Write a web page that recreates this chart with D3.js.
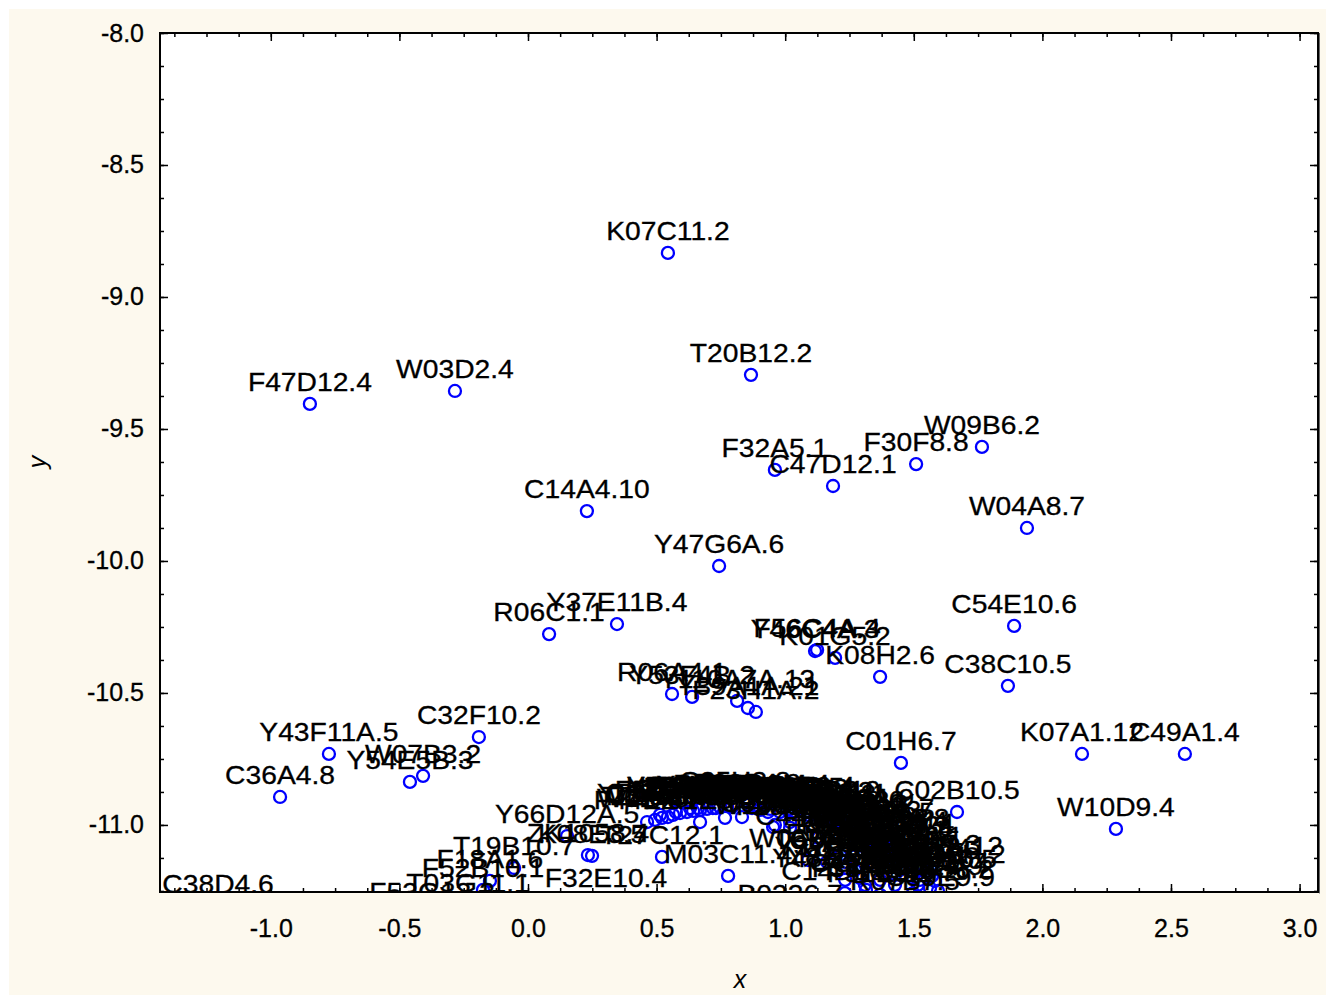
<!DOCTYPE html>
<html>
<head>
<meta charset="utf-8">
<script src="https://cdn.jsdelivr.net/npm/d3@7"></script>
<style>
  html, body { margin: 0; padding: 0; background: #ffffff; }
  svg { display: block; }
  text { font-family: "Liberation Sans", Arial, sans-serif; }
</style>
</head>
<body>
<svg id="chart" width="1328" height="999"></svg>
<script>
// ---------- data ----------
const names = [
  "K07C11.2","T20B12.2","F47D12.4","W03D2.4","W09B6.2","F30F8.8","F32A5.1","C47D12.1",
  "C14A4.10","W04A8.7","Y47G6A.6","R06C1.1","Y37E11B.4","C54E10.6","Y46C4A.3","F56C4A.4",
  "K01G5.2","K08H2.6","C38C10.5","R06A4.1","Y53F4B.2","Y110A7A.13","Y39A1A.21","F23H1A.2",
  "C32F10.2","Y43F11A.5","Y54E5B.3","W07B3.2","C36A4.8","C01H6.7","K07A1.12","C49A1.4",
  "C02B10.5","W10D9.4","C38D4.6","T03G11.1","F53G12.3","Y66D12A.5","K08E3.5","ZK1058.4",
  "T27C12.1","T19B10.7","F18A1.6","F52B10.1","M03C11.4","F32E10.4","B0336.7","R07B7.5",
  "C14D10.2","C53D5.4","F44G4.4","T12D8.8","Y54G2A.12","F35H10.5","C26C6.2","C39E9.9",
  "F44E2.7","W01A8.4","T21B10.1","C34E10.6","Y71H2AM.5","F25H2.9","K11H3.3","ZK637.8",
  "C16A3.5","T05H10.6","F13G3.10","Y39B6A.3","R05F9.6","C25H3.8","F58B3.5","T09B4.9",
  "Y55F3AM.4","W02D3.5","K07H8.10","C06A5.8","F45H10.3","T23G11.3","Y57G11C.12","M02B7.1",
  "F43G9.1","C33A12.1","ZC395.8","F20D6.11","T26A5.3","Y47D3A.6","K04G7.4","F59B8.2",
  "C09H10.3","B0334.8","W09C5.8","F54H12.1","Y53C12A.4","T10B10.7","K02F3.2","C29E4.8",
  "F35G12.2","R53.4","E04A4.5","Y37D8A.14","F01G4.6","T20H4.5","ZK829.4","C15F1.6",
  "K10C3.5","F26E4.9","W10C8.5","Y82E9BR.3","T02G5.8","C05C10.3","F22B7.5","H28O16.1",
  "ZK973.10","C18E9.4","F53F4.10","T06D8.6","Y63D3A.7","K04D7.1","C44B7.10","F29C4.2",
  "W06D4.4","D1037.4","R07E4.4","Y45F10D.4","T07C4.5","F38H4.9",
  "C17E4.9","F57B10.3","Y73B6BL.6","T08G11.1","K12H4.8","W03C9.7","F10G8.3","C27F2.5",
  "ZK858.2","R10E11.1","Y18D10A.9","F08F8.2","T14G10.5","C56C10.8","K06H7.4","F39B2.1",
  "W05H7.3","Y106G6H.2","M01E5.5","C42C1.9","F26D10.3","T24H7.1","B0361.5","K09A9.6",
  "F02A9.4","ZK512.5","C41C4.6","Y48G8AL.1","T01B7.4","F31E3.1"
];
const xVals = [
  0.544, 0.867, -0.848, -0.284, 1.765, 1.509, 0.960, 1.186,
  0.229, 1.940, 0.743, 0.082, 0.346, 1.890, 1.116, 1.124,
  1.194, 1.369, 1.866, 0.560, 0.638, 0.813, 0.855, 0.886,
  -0.191, -0.774, -0.459, -0.408, -0.964, 1.450, 2.154, 2.554,
  1.668, 2.286, -1.205, -0.233, -0.373, 0.152, 0.249, 0.233,
  0.521, -0.054, -0.148, -0.175, 0.778, 0.303, 1.019, 1.466,
  1.232, 1.232, 1.419, 1.446, 1.563, 1.582, 1.594, 1.602,
  0.463, 0.494, 0.521, 0.544, 0.564, 0.591, 0.618, 0.642,
  0.669, 0.696, 0.719, 0.747, 0.774, 0.805, 0.832, 0.855,
  0.883, 0.902, 0.933, 0.960, 0.980, 1.007, 1.030, 1.058,
  1.089, 1.116, 1.143, 1.174, 1.198, 1.213, 1.236, 1.264,
  1.283, 1.306, 1.330, 1.353, 1.376, 1.400, 1.318, 1.341,
  1.357, 1.186, 1.213, 1.240, 1.446, 1.470, 1.497, 1.524,
  1.544, 1.563, 0.953, 1.291, 1.388, 1.427, 1.497, 0.630,
  0.902, 1.058, 1.135, 1.252, 1.330, 1.419, 1.128, 1.019,
  1.089, 1.271, 1.369, 1.516, 1.163, 1.314,
  0.513, 0.575, 0.661, 0.731, 0.793, 0.871, 0.941, 1.019,
  1.077, 1.159, 1.221, 1.275, 1.337, 1.392, 1.439, 1.485,
  1.532, 1.571, 0.669, 0.766, 1.019, 1.104, 1.194, 1.271,
  1.349, 1.427, 1.310, 1.233, 1.516, 1.369
];
const yVals = [
  -8.833, -9.295, -9.405, -9.356, -9.568, -9.633, -9.655, -9.716,
  -9.811, -9.875, -10.019, -10.277, -10.239, -10.246, -10.341, -10.337,
  -10.367, -10.439, -10.473, -10.504, -10.515, -10.530, -10.557, -10.572,
  -10.667, -10.731, -10.837, -10.814, -10.894, -10.765, -10.731, -10.731,
  -10.951, -11.015, -11.307, -11.303, -11.337, -11.042, -11.117, -11.114,
  -11.121, -11.163, -11.212, -11.246, -11.193, -11.284, -11.345, -11.295,
  -11.258, -11.140, -11.068, -11.125, -11.163, -11.212, -11.250, -11.280,
  -10.989, -10.981, -10.973, -10.970, -10.962, -10.955, -10.951, -10.947,
  -10.943, -10.939, -10.936, -10.932, -10.928, -10.917, -10.970, -10.924,
  -10.928, -10.943, -10.951, -11.000, -10.951, -10.943, -10.955, -10.947,
  -10.962, -10.973, -10.966, -10.981, -10.989, -11.000, -11.011, -11.038,
  -11.027, -11.049, -11.057, -11.064, -11.076, -11.087, -11.095, -11.121,
  -11.083, -11.083, -11.114, -11.163, -11.170, -11.140, -11.201, -11.208,
  -11.178, -11.239, -11.008, -11.201, -11.140, -11.227, -11.258, -10.936,
  -10.936, -10.936, -10.951, -10.989, -11.019, -11.102, -11.049, -11.011,
  -11.133, -11.170, -11.208, -11.227, -11.140, -11.246,
  -10.962, -10.951, -10.936, -10.936, -10.932, -10.936, -10.939, -10.939,
  -10.951, -10.962, -10.981, -11.004, -11.034, -11.057, -11.095, -11.125,
  -11.155, -11.193, -10.989, -10.973, -10.989, -11.004, -11.027, -11.076,
  -11.152, -11.189, -11.227, -11.208, -11.170, -11.265
];
const xTicks = [-1.0, -0.5, 0.0, 0.5, 1.0, 1.5, 2.0, 2.5, 3.0];
const yTicks = [-8.0, -8.5, -9.0, -9.5, -10.0, -10.5, -11.0];
const xTitle = "x";
const yTitle = "y";

// ---------- layout ----------
const svg = d3.select("#chart");
const plot = { left: 160, right: 1318, top: 33, bottom: 892 };

svg.append("rect").attr("x", 9).attr("y", 9).attr("width", 1317).attr("height", 986)
  .attr("fill", "#fdf9ee");
svg.append("rect").attr("x", plot.left).attr("y", plot.top)
  .attr("width", plot.right - plot.left).attr("height", plot.bottom - plot.top)
  .attr("fill", "#ffffff");

const x = d3.scaleLinear().domain([-1.4308, 3.0716]).range([plot.left, plot.right]);
const y = d3.scaleLinear().domain([-8.0, -11.254]).range([plot.top, plot.bottom]);

function minorTicks(scale) {
  const [a, b] = d3.extent(scale.domain());
  const out = [];
  for (let v = Math.ceil(a / 0.125) * 0.125; v <= b + 1e-9; v += 0.125) out.push(+v.toFixed(4));
  return out;
}
const xMinor = minorTicks(x), yMinor = minorTicks(y);

function styleAxis(g) {
  g.select(".domain").remove();
  g.selectAll("line").attr("stroke", "#000").attr("stroke-width", 1.5);
  g.selectAll("text").attr("fill", "#000").attr("font-size", 25)
    .attr("stroke", "#000").attr("stroke-width", 0.3)
    .attr("font-family", "'Liberation Sans', Arial, sans-serif");
}
const fmt = d3.format(".1f");
const fmtMinus = v => fmt(v).replace("−", "-");

// bottom
svg.append("g").attr("transform", `translate(0,${plot.bottom})`)
  .call(d3.axisBottom(x).tickValues(xMinor).tickSize(-4).tickFormat(""))
  .call(styleAxis);
svg.append("g").attr("transform", `translate(0,${plot.bottom})`)
  .call(d3.axisBottom(x).tickValues(xTicks).tickSize(-8).tickPadding(27).tickFormat(fmtMinus))
  .call(styleAxis);
// top
svg.append("g").attr("transform", `translate(0,${plot.top})`)
  .call(d3.axisTop(x).tickValues(xMinor).tickSize(-4).tickFormat(""))
  .call(styleAxis);
svg.append("g").attr("transform", `translate(0,${plot.top})`)
  .call(d3.axisTop(x).tickValues(xTicks).tickSize(-8).tickFormat(""))
  .call(styleAxis);
// left
svg.append("g").attr("transform", `translate(${plot.left},0)`)
  .call(d3.axisLeft(y).tickValues(yMinor).tickSize(-4).tickFormat(""))
  .call(styleAxis);
svg.append("g").attr("transform", `translate(${plot.left},0)`)
  .call(d3.axisLeft(y).tickValues(yTicks).tickSize(-8).tickPadding(16).tickFormat(fmtMinus))
  .call(styleAxis);
// right
svg.append("g").attr("transform", `translate(${plot.right},0)`)
  .call(d3.axisRight(y).tickValues(yMinor).tickSize(-4).tickFormat(""))
  .call(styleAxis);
svg.append("g").attr("transform", `translate(${plot.right},0)`)
  .call(d3.axisRight(y).tickValues(yTicks).tickSize(-8).tickFormat(""))
  .call(styleAxis);

// clip
svg.append("defs").append("clipPath").attr("id", "clip")
  .append("rect").attr("x", plot.left).attr("y", plot.top)
  .attr("width", plot.right - plot.left).attr("height", plot.bottom - plot.top);

const data = names.map((n, i) => ({ name: n, x: xVals[i], y: yVals[i] }));
const g = svg.append("g").attr("clip-path", "url(#clip)");

g.selectAll("circle").data(data).enter().append("circle")
  .attr("cx", d => x(d.x)).attr("cy", d => y(d.y)).attr("r", 6)
  .attr("fill", "none").attr("stroke", "#0000ff").attr("stroke-width", 2.3);

g.selectAll("text.lbl").data(data).enter().append("text")
  .attr("class", "lbl")
  .attr("transform", d => `translate(${x(d.x)},${y(d.y) - 13}) scale(1.13,1)`)
  .attr("text-anchor", "middle")
  .attr("font-size", 25).attr("fill", "#000")
  .attr("stroke", "#000").attr("stroke-width", 0.3)
  .text(d => d.name);

// frame
svg.append("rect").attr("x", plot.left).attr("y", plot.top)
  .attr("width", plot.right - plot.left).attr("height", plot.bottom - plot.top)
  .attr("fill", "none").attr("stroke", "#000").attr("stroke-width", 2);
svg.append("line").attr("x1", plot.right + 1.5).attr("x2", plot.right + 1.5)
  .attr("y1", plot.top).attr("y2", plot.bottom + 1.5)
  .attr("stroke", "#666").attr("stroke-width", 1);

// axis titles
svg.append("text").attr("x", 740).attr("y", 988).attr("text-anchor", "middle")
  .attr("font-size", 25).attr("font-style", "italic").text(xTitle);
svg.append("text").attr("transform", "translate(46,462) rotate(-90)")
  .attr("text-anchor", "middle").attr("font-size", 25).attr("font-style", "italic").text(yTitle);
</script>
</body>
</html>
